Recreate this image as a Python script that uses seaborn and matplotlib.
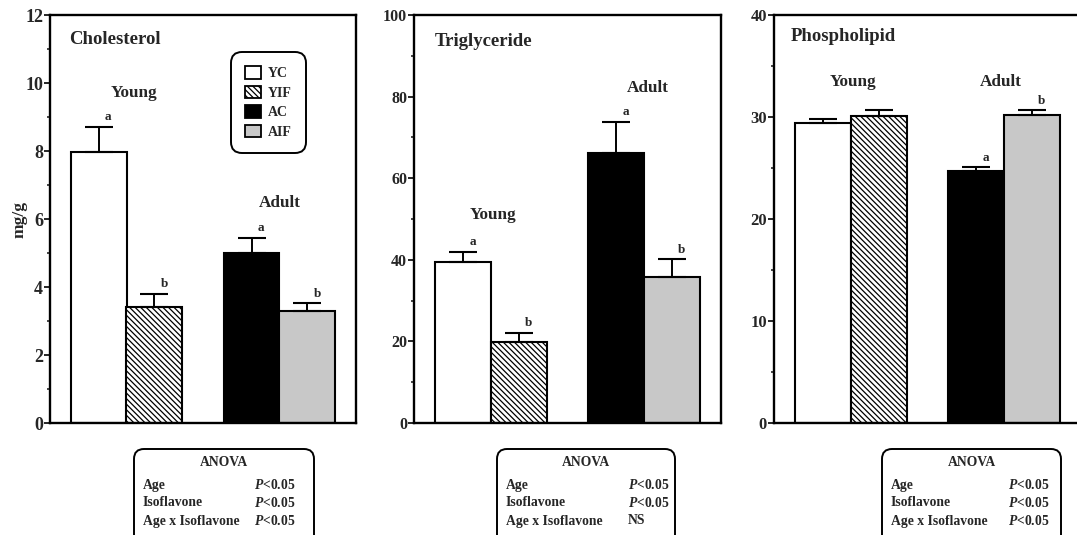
import numpy as np
import pandas as pd
import seaborn as sns
import matplotlib
matplotlib.use("Agg")
import matplotlib.pyplot as plt
from matplotlib.patches import FancyBboxPatch, Patch
from matplotlib.ticker import MultipleLocator

# ---------------- data ----------------
groups = ["YC", "YIF", "AC", "AIF"]
ages = ["Young", "Young", "Adult", "Adult"]
treatments = ["C", "IF", "C", "IF"]

chol = [7.97, 3.40, 5.01, 3.29]
chol_err = [0.74, 0.40, 0.44, 0.23]
trig = [39.5, 19.9, 66.2, 35.7]
trig_err = [2.5, 2.2, 7.6, 4.5]
phos = [29.4, 30.1, 24.7, 30.2]
phos_err = [0.45, 0.55, 0.40, 0.45]

chol_letters = ["a", "b", "a", "b"]
trig_letters = ["a", "b", "a", "b"]
phos_letters = ["", "", "a", "b"]

titles = ["Cholesterol", "Triglyceride", "Phospholipid"]
anova_terms = ["Age", "Isoflavone", "Age x Isoflavone"]
chol_anova = ["$P$<0.05", "$P$<0.05", "$P$<0.05"]
trig_anova = ["$P$<0.05", "$P$<0.05", "NS"]
phos_anova = ["$P$<0.05", "$P$<0.05", "$P$<0.05"]

# ---------------- style ----------------
sns.set_style("ticks")
plt.rcParams["font.family"] = ["Liberation Serif", "DejaVu Serif"]
plt.rcParams["font.weight"] = "bold"
plt.rcParams["axes.labelweight"] = "bold"
plt.rcParams["mathtext.fontset"] = "custom"
plt.rcParams["mathtext.it"] = "Liberation Serif:italic:bold"
plt.rcParams["mathtext.rm"] = "Liberation Serif:bold"
plt.rcParams["hatch.linewidth"] = 0.9

faces = ["white", "white", "black", "#c8c8c8"]
hatches = [None, "\\\\\\\\\\\\", None, None]

fig = plt.figure(figsize=(10.77, 5.35), dpi=100)
W, H = 1077.0, 535.0

def axrect(l, r, t=15, b=423):
    return [l / W, 1 - b / H, (r - l) / W, (b - t) / H]

ax_rects = [axrect(50, 356), axrect(414, 721), axrect(774, 1081)]
panels = [
    (chol, chol_err, chol_letters, (0, 12), 2, 1, chol_anova),
    (trig, trig_err, trig_letters, (0, 100), 20, 10, trig_anova),
    (phos, phos_err, phos_letters, (0, 40), 10, 5, phos_anova),
]
tick_sizes = [13, 11.5, 12]
title_pos = [(0.062, 0.939), (0.068, 0.936), (0.055, 0.947)]
young_pos = [(0.05, 9.71), (0.015, 51.0), (0.015, 33.46)]
adult_pos = [(1.0, 6.48), (1.02, 82.2), (0.98, 33.46)]

# ANOVA boxes (pixel layout)
box_lr = [(134, 314), (497, 675), (882, 1061)]
val_off = [120, 131, 126]

for k, (vals, errs, letters, ylim, major, minor, anova_vals) in enumerate(panels):
    ax = fig.add_axes(ax_rects[k])
    df = pd.DataFrame({"age": ages, "trt": treatments, "value": vals, "group": groups})
    sns.barplot(data=df, x="age", y="value", hue="trt", order=["Young", "Adult"],
                hue_order=["C", "IF"], width=0.73, errorbar=None, legend=False,
                saturation=1, ax=ax)
    bars = sorted(ax.patches, key=lambda p: p.get_x())
    for i, p in enumerate(bars):
        p.set_facecolor(faces[i])
        p.set_edgecolor("black")
        p.set_linewidth(1.5)
        if hatches[i]:
            p.set_hatch(hatches[i])
        xc = p.get_x() + p.get_width() / 2
        top = p.get_height()
        ax.errorbar([xc], [top], yerr=[[0], [errs[i]]], fmt="none", ecolor="black",
                    elinewidth=1.4, capsize=10, capthick=1.5, zorder=3)
        if letters[i]:
            ax.annotate(letters[i], (xc, top + errs[i]), xytext=(7, 2.5),
                        textcoords="offset points", ha="center", va="bottom",
                        fontsize=9.5, fontweight="bold")
    ax.set_xlim(-0.5, 1.5)
    ax.set_ylim(*ylim)
    ax.yaxis.set_major_locator(MultipleLocator(major))
    ax.yaxis.set_minor_locator(MultipleLocator(minor))
    ax.set_xticks([])
    ax.set_xlabel("")
    ax.set_ylabel("mg/g" if k == 0 else "", fontsize=12.5, fontweight="bold")
    if k == 0:
        ax.yaxis.set_label_coords(-0.075, 0.5)
    ax.tick_params(axis="y", which="major", length=4, width=1.4, direction="out",
                   labelsize=tick_sizes[k], pad=1)
    ax.tick_params(axis="y", which="minor", length=2.5, width=1.2, direction="out")
    for s in ax.spines.values():
        s.set_visible(True)
        s.set_linewidth(1.7)
        s.set_color("black")
    ax.text(title_pos[k][0], title_pos[k][1], titles[k], transform=ax.transAxes,
            ha="left", va="center", fontsize=13.5, fontweight="bold")
    ax.text(young_pos[k][0], young_pos[k][1], "Young", ha="center", va="center",
            fontsize=12.3, fontweight="bold")
    ax.text(adult_pos[k][0], adult_pos[k][1], "Adult", ha="center", va="center",
            fontsize=12.3, fontweight="bold")

    if k == 0:
        handles = [Patch(facecolor=faces[i], edgecolor="black", hatch=hatches[i],
                         linewidth=1.3, label=groups[i]) for i in range(4)]
        leg = ax.legend(handles=handles, loc="upper left", bbox_to_anchor=(0.595, 0.907),
                        borderaxespad=0, fontsize=10, frameon=True, fancybox=True,
                        handlelength=1.1, handleheight=1.0, labelspacing=0.4,
                        handletextpad=0.5, borderpad=0.95)
        fr = leg.get_frame()
        fr.set_edgecolor("black")
        fr.set_linewidth(1.4)
        fr.set_alpha(1)
        fr.set_boxstyle("round,pad=0.1,rounding_size=0.8")
        for t in leg.get_texts():
            t.set_fontweight("bold")

    # ANOVA box
    l, r = box_lr[k]
    tr = fig.dpi_scale_trans
    box = FancyBboxPatch((l / 100, -0.1), (r - l) / 100, (H - 449) / 100 + 0.1,
                         boxstyle="round,pad=0,rounding_size=0.1", transform=tr,
                         facecolor="none", edgecolor="black", linewidth=1.4,
                         clip_on=False)
    fig.add_artist(box)
    fig.text((l + r) / 200, (H - 463) / 100, "ANOVA", transform=tr, ha="center",
             va="center", fontsize=9.8, fontweight="bold")
    for j, term in enumerate(anova_terms):
        yy = (H - 485 - 18 * j) / 100
        fig.text((l + 9) / 100, yy, term, transform=tr, ha="left", va="center",
                 fontsize=9.8, fontweight="bold")
        fig.text((l + val_off[k]) / 100, yy, anova_vals[j], transform=tr, ha="left",
                 va="center", fontsize=9.8, fontweight="bold")

fig.savefig("out.png", dpi=100)
